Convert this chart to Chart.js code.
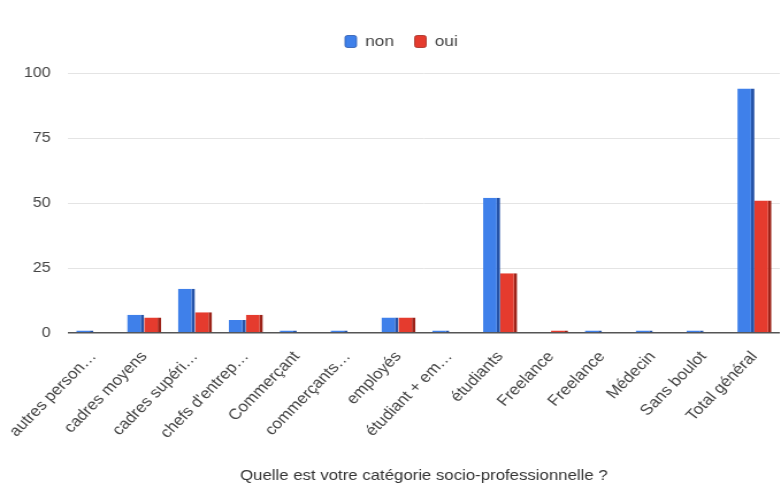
<!DOCTYPE html>
<html>
<head>
<meta charset="utf-8">
<script src="https://cdn.jsdelivr.net/npm/chart.js@4.4.1/dist/chart.umd.min.js"></script>
<style>
  html, body { margin: 0; padding: 0; background: #fff; overflow: hidden; }
</style>
</head>
<body>
<!-- the canvas is drawn narrower and widened by CSS, like the exported sheet chart -->
<canvas id="chart" width="679" height="483" style="display:block;width:781px;height:483px"></canvas>
<script>
// --- données ---
const categories = [
  'autres person…', 'cadres moyens', 'cadres supéri…', "chefs d'entrep…",
  'Commerçant', 'commerçants…', 'employés', 'étudiant + em…', 'étudiants',
  'Freelance', 'Freelance', 'Médecin', 'Sans boulot', 'Total général'
];
const nonValues = [1, 7, 17, 5, 1, 1, 6, 1, 52, 0, 1, 1, 1, 94];
const ouiValues = [0, 6, 8, 7, 0, 0, 6, 0, 23, 1, 0, 0, 0, 51];
const yTicks = [0, 25, 50, 75, 100];

const FONT = "'Liberation Sans', Arial, sans-serif";

const colors = {
  non: '#3f80ea', nonSide: '#2553a8',
  oui: '#e53b2e', ouiSide: '#9c2218'
};

// legende : un peu plus d'espace dessous, decalee vers la droite
const legendTweak = {
  id: 'legendTweak',
  afterInit(chart) {
    const legend = chart.legend;
    const fit = legend.fit.bind(legend);
    legend.fit = function () { fit(); this.height += 14; };
  },
  afterLayout(chart) {
    chart.legend.left += 10;
    chart.legend.right += 10;
  }
};

new Chart(document.getElementById('chart'), {
  type: 'bar',
  data: {
    labels: categories,
    datasets: [
      {
        label: 'non', data: nonValues,
        backgroundColor: colors.non, borderColor: colors.nonSide,
        borderWidth: { top: 0, right: 3, bottom: 0, left: 0 }, borderSkipped: false
      },
      {
        label: 'oui', data: ouiValues,
        backgroundColor: colors.oui, borderColor: colors.ouiSide,
        borderWidth: { top: 0, right: 3, bottom: 0, left: 0 }, borderSkipped: false
      }
    ]
  },
  options: {
    responsive: false,
    animation: false,
    devicePixelRatio: 1,
    layout: { padding: { top: 16, right: 1, bottom: 0, left: 0 } },
    datasets: { bar: { categoryPercentage: 0.67, barPercentage: 1.0 } },
    plugins: {
      legend: {
        position: 'top',
        labels: {
          font: { family: FONT, size: 15 }, color: '#444',
          boxWidth: 10, boxHeight: 12, padding: 18,
          useBorderRadius: true, borderRadius: 2
        }
      },
      tooltip: { enabled: false }
    },
    scales: {
      x: {
        grid: { display: false },
        border: { display: false },
        ticks: {
          autoSkip: false, minRotation: 49, maxRotation: 49,
          font: { family: FONT, size: 15 }, color: '#444', padding: 7
        },
        title: {
          display: true, text: 'Quelle est votre catégorie socio-professionnelle ?',
          font: { family: FONT, size: 14.6, lineHeight: 1.0 }, color: '#333',
          padding: { top: 4, bottom: 0 }
        },
        afterFit: (s) => { s.height = 150; }
      },
      y: {
        min: 0, max: 100,
        afterBuildTicks: (s) => { s.ticks = yTicks.map(v => ({ value: v })); },
        grid: {
          drawTicks: false,
          color: (c) => c.tick && c.tick.value === 0 ? '#555' : '#e4e4e4',
          lineWidth: (c) => c.tick && c.tick.value === 0 ? 1.5 : 1
        },
        border: { display: false },
        ticks: { font: { family: FONT, size: 14 }, color: '#444', padding: 15 },
        afterFit: (s) => { s.width = 59; }
      }
    }
  },
  plugins: [legendTweak]
});
</script>
</body>
</html>
